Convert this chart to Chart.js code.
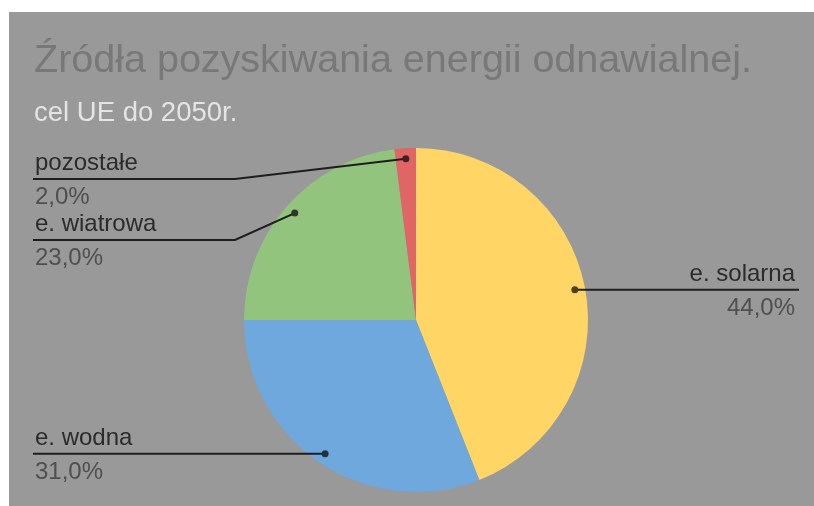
<!DOCTYPE html>
<html lang="pl">
<head>
  <meta charset="UTF-8">
  <title>Źródła pozyskiwania energii odnawialnej</title>
  <script src="https://cdn.jsdelivr.net/npm/chart.js"></script>
  <style>
    body { margin: 0; background: #fff; }
    #box { position: absolute; left: 9px; top: 12px; width: 805px; height: 494px; background: #999; }
  </style>
</head>
<body>
  <div id="box"><canvas id="energyChart" width="805" height="494"></canvas></div>

  <script>
    // Shares of renewable sources (EU target for 2050)
    const sources = ['e. solarna', 'e. wodna', 'e. wiatrowa', 'pozostałe'];
    const shares = [44, 31, 23, 2];
    const colors = ['#ffd666', '#6fa8dc', '#93c47d', '#e06666'];

    const labelFont = '24px "Liberation Sans", Arial, sans-serif';

    // darker shade of a slice colour for the callout dot
    function darken(hex, k) {
      const n = parseInt(hex.slice(1), 16);
      const r = Math.round(((n >> 16) & 255) * k);
      const g = Math.round(((n >> 8) & 255) * k);
      const b = Math.round((n & 255) * k);
      return `rgb(${r},${g},${b})`;
    }

    // Callout labels: dot inside the slice, line out to the side, name above and percent below
    const callouts = {
      id: 'callouts',
      afterDatasetsDraw(chart) {
        const { ctx, chartArea, width } = chart;
        const arcs = chart.getDatasetMeta(0).data;
        const total = shares.reduce((a, b) => a + b, 0);

        const items = arcs.map((arc, i) => {
          const p = arc.getProps(['x', 'y', 'startAngle', 'endAngle', 'outerRadius'], true);
          const mid = (p.startAngle + p.endAngle) / 2;
          const r = p.outerRadius * 0.94;
          return {
            i,
            dx: p.x + Math.cos(mid) * r,
            dy: p.y + Math.sin(mid) * r,
            left: Math.cos(mid) < 0
          };
        });

        const leftX = 24, rightX = width - 15;
        const leftElbow = leftX + 202, rightElbow = rightX - 202;

        [true, false].forEach(side => {
          let prev = -Infinity;
          items.filter(it => it.left === side)
            .sort((a, b) => a.dy - b.dy)
            .forEach(it => {
              const lineY = Math.max(it.dy, chartArea.top + 31, prev + 61);
              prev = lineY;

              ctx.save();
              ctx.strokeStyle = '#1e1e1e';
              ctx.lineWidth = 2;
              ctx.beginPath();
              if (side) {
                ctx.moveTo(leftX, lineY);
                ctx.lineTo(leftElbow, lineY);
              } else {
                ctx.moveTo(rightX, lineY);
                ctx.lineTo(rightElbow, lineY);
              }
              ctx.lineTo(it.dx, it.dy);
              ctx.stroke();

              ctx.fillStyle = darken(colors[it.i], 0.3);
              ctx.beginPath();
              ctx.arc(it.dx, it.dy, 3.5, 0, Math.PI * 2);
              ctx.fill();

              const pct = (shares[it.i] / total * 100).toFixed(1).replace('.', ',') + '%';
              ctx.font = labelFont;
              ctx.textBaseline = 'alphabetic';
              ctx.textAlign = side ? 'left' : 'right';
              const tx = side ? leftX + 2 : rightX - 4;
              ctx.fillStyle = '#2b2b2b';
              ctx.fillText(sources[it.i], tx, lineY - 9);
              ctx.fillStyle = '#4f4f4f';
              ctx.fillText(pct, tx, lineY + 25);
              ctx.restore();
            });
        });
      }
    };

    const ctx = document.getElementById('energyChart').getContext('2d');
    new Chart(ctx, {
      type: 'pie',
      data: {
        labels: sources,
        datasets: [{
          data: shares,
          backgroundColor: colors,
          borderWidth: 0
        }]
      },
      options: {
        responsive: false,
        animation: false,
        layout: { padding: { top: 0, left: 25, right: 16, bottom: 14 } },
        plugins: {
          legend: { display: false },
          tooltip: { enabled: false },
          title: {
            display: true,
            text: 'Źródła pozyskiwania energii odnawialnej.',
            align: 'start',
            color: '#787878',
            font: { family: '"Liberation Sans", Arial, sans-serif', size: 39.5, weight: 'normal' },
            padding: { top: 25, bottom: 5.4 }
          },
          subtitle: {
            display: true,
            text: 'cel UE do 2050r.',
            align: 'start',
            color: '#e4e4e4',
            font: { family: '"Liberation Sans", Arial, sans-serif', size: 27.5, weight: 'normal' },
            padding: { top: 7, bottom: 18.2 }
          }
        }
      },
      plugins: [callouts]
    });
  </script>
</body>
</html>
